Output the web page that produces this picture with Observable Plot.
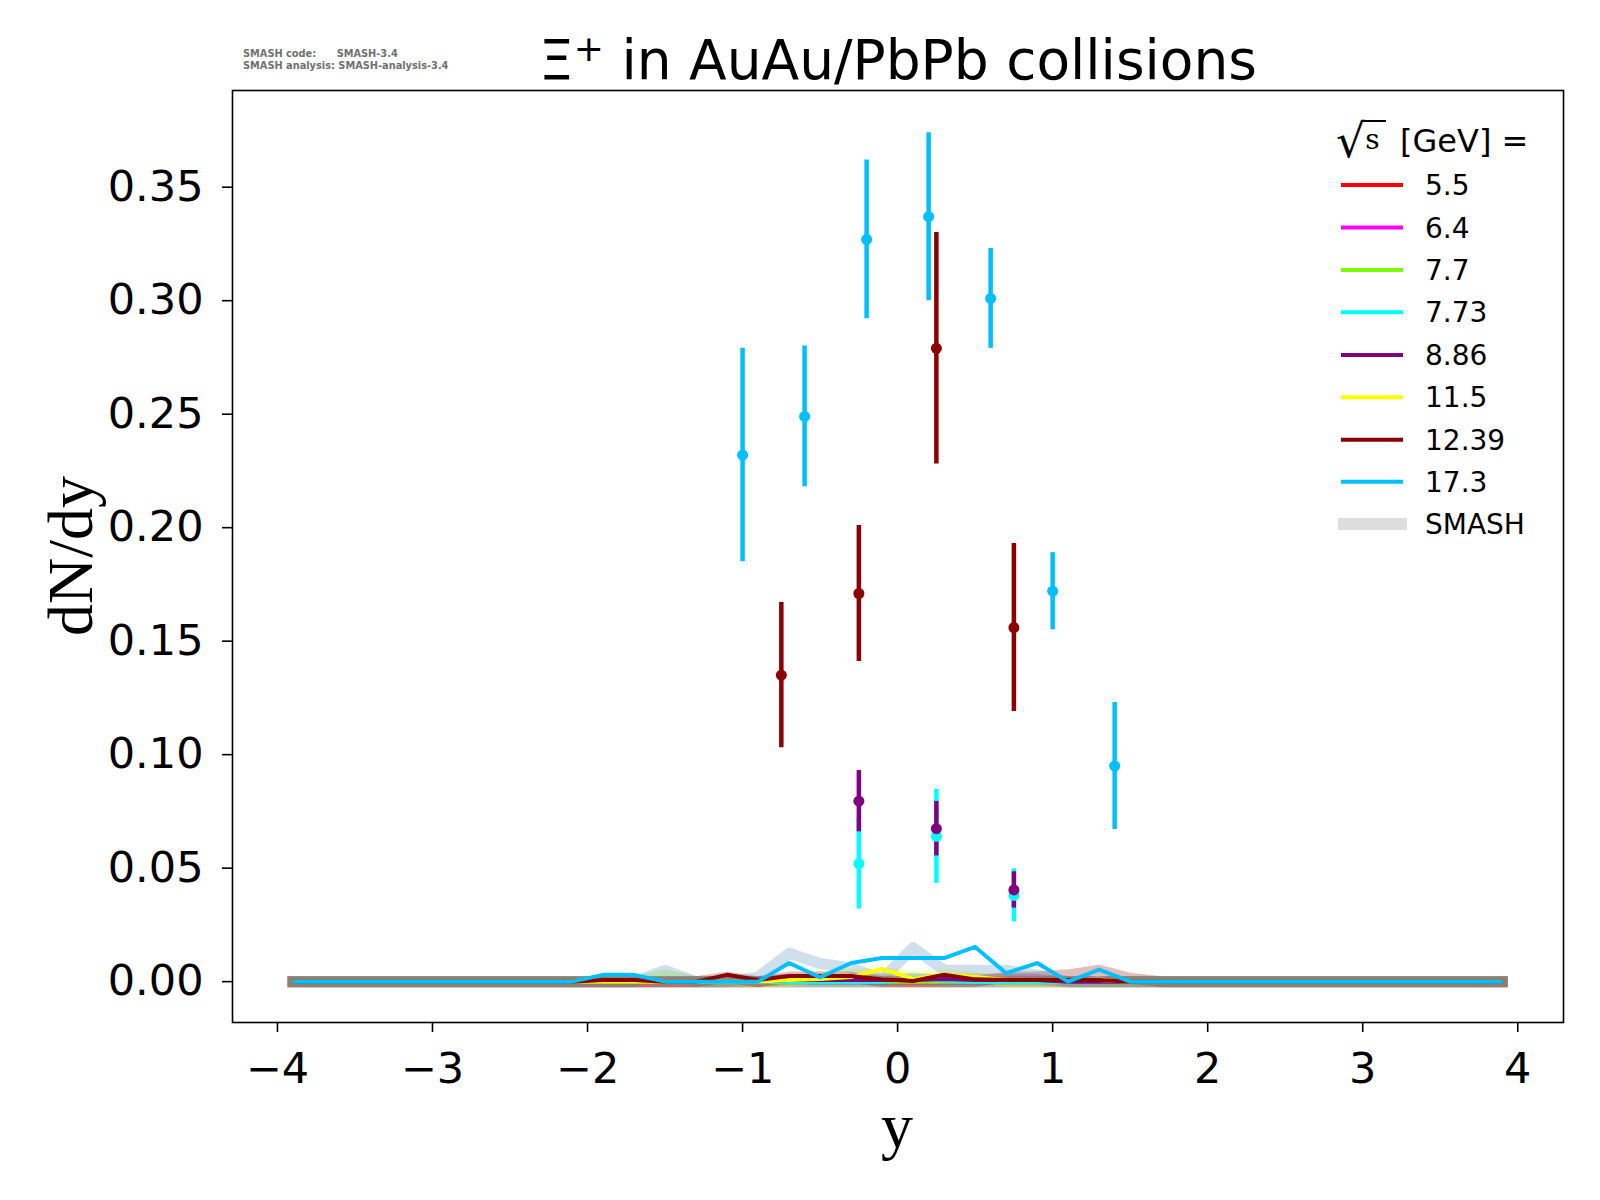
<!DOCTYPE html>
<html>
<head>
<meta charset="utf-8">
<script src="https://cdn.jsdelivr.net/npm/d3@7"></script>
<script src="https://cdn.jsdelivr.net/npm/@observablehq/plot@0.6"></script>
<style>
  html, body { margin: 0; padding: 0; background: #fff; }
  #chart svg { display: block; }
</style>
</head>
<body>
<div id="chart"></div>
<script>
// ---- categories ----
const energies = ["5.5", "6.4", "7.7", "7.73", "8.86", "11.5", "12.39", "17.3"];
const colors = ["#ff0000", "#ff00ff", "#7cfc00", "#00ffff", "#800080", "#ffff00", "#8b0000", "#00bfff"];
const bandColors = ["#ff0000", "#ff00ff", "#7cfc00", "#00ffff", "#800080", "#ffff00", "#8b0000", "#4682b4"];

// ---- ticks ----
const xTicks = [-4, -3, -2, -1, 0, 1, 2, 3, 4];
const yTicks = [0, 0.05, 0.10, 0.15, 0.20, 0.25, 0.30, 0.35];

// ---- SMASH rapidity grid ----
const yGrid = [-3.9,-3.7,-3.5,-3.3,-3.1,-2.9,-2.7,-2.5,-2.3,-2.1,-1.9,-1.7,-1.5,-1.3,-1.1,-0.9,-0.7,-0.5,-0.3,-0.1,
               0.1,0.3,0.5,0.7,0.9,1.1,1.3,1.5,1.7,1.9,2.1,2.3,2.5,2.7,2.9,3.1,3.3,3.5,3.7,3.9];

// ---- SMASH thin lines (dN/dy) ----
const smash55   = [0,0,0,0,0,0,0,0,0,0, 0,0,0,0,0,0,0,0,0,0, 0,0,0,0,0,0,0,0,0,0, 0,0,0,0,0,0,0,0,0,0];
const smash64   = [0,0,0,0,0,0,0,0,0,0, 0,0,0,0,0,0,0,0,0,0, 0,0,0,0,0,0,0,0,0,0, 0,0,0,0,0,0,0,0,0,0];
const smash77   = [0,0,0,0,0,0,0,0,0,0, 0,0,0,0,0,0,0,0,0,0, 0,0,0,0,0,0,0,0,0,0, 0,0,0,0,0,0,0,0,0,0];
const smash773  = [0,0,0,0,0,0,0,0,0,0, 0,0,0,0,0,0,0,0,0,0, 0.0015,0.0005,0,0,0,0,0,0,0,0, 0,0,0,0,0,0,0,0,0,0];
const smash886  = [0,0,0,0,0,0,0,0,0,0, 0,0,0,0,0,0,0.0007,0.0007,0.0007,0.0007, 0.0007,0.0012,0.0007,0.0007,0.0007,0,0,0,0,0, 0,0,0,0,0,0,0,0,0,0];
const smash115  = [0,0,0,0,0,0,0,0,0,0, 0,0,0,0,0,0,0.0007,0.0012,0.002,0.0056, 0.0012,0.003,0.002,0.0007,0.0007,0.0007,0.0007,0,0,0, 0,0,0,0,0,0,0,0,0,0];
const smash1239 = [0,0,0,0,0,0,0,0,0,0, 0.0007,0.0007,0,0,0.003,0.0007,0.0025,0.0025,0.0025,0.001, 0.0003,0.003,0.001,0.0007,0.0007,0.0007,0.0007,0,0,0, 0,0,0,0,0,0,0,0,0,0];
const smash173  = [0,0,0,0,0,0,0,0,0,0, 0.003,0.003,0,0,0,0,0.0082,0.0019,0.0082,0.0104, 0.0104,0.0104,0.0153,0.0037,0.0082,0,0.0053,0,0,0, 0,0,0,0,0,0,0,0,0,0];

// ---- SMASH translucent bands ----
const band55   = [0,0,0,0,0,0,0,0,0,0, 0,0,0,0,0,0,0,0,0,0, 0,0,0,0,0,0,0,0,0,0, 0,0,0,0,0,0,0,0,0,0];
const band64   = [0,0,0,0,0,0,0,0,0,0, 0,0,0,0,0,0,0,0,0,0, 0,0,0,0,0,0,0,0,0,0, 0,0,0,0,0,0,0,0,0,0];
const band77   = [0,0,0,0,0,0,0,0,0,0, 0,0,0.003,0,0,0,0,0,0,0, 0,0,0,0,0,0,0,0,0,0, 0,0,0,0,0,0,0,0,0,0];
const band773  = [0,0,0,0,0,0,0,0,0,0, 0,0,0,0,0,0,0,0,0,0, 0.002,0,0,0,0,0,0,0,0,0, 0,0,0,0,0,0,0,0,0,0];
const band886  = [0,0,0,0,0,0,0,0,0,0, 0,0,0,0,0,0,0.001,0.001,0.001,0.001, 0.001,0.001,0.001,0.001,0.001,0,0,0,0,0, 0,0,0,0,0,0,0,0,0,0];
const band115  = [0,0,0,0,0,0,0,0,0,0, 0,0,0,0,0,0,0,0.002,0.003,0.004, 0.002,0.003,0.002,0,0,0,0,0,0,0, 0,0,0,0,0,0,0,0,0,0];
const band1239 = [0,0,0,0,0,0,0,0,0,0, 0,0,0,0,0.002,0,0.002,0.002,0.002,0, 0,0,0,0.002,0.002,0.003,0.005,0.0015,0,0, 0,0,0,0,0,0,0,0,0,0];
const band173  = [0,0,0,0,0,0,0,0,0,0, 0,0,0.005,0,0,0.002,0.0125,0.008,0.006,0.001, 0.015,0.005,0.005,0.005,0.003,0,0,0,0,0, 0,0,0,0,0,0,0,0,0,0];

// ---- experimental data ----
const exp773_y  = [-0.25, 0.25, 0.75];
const exp773_v  = [0.052, 0.064, 0.038];
const exp773_e  = [0.020, 0.0207, 0.0117];
const exp886_y  = [-0.25, 0.25, 0.75];
const exp886_v  = [0.0795, 0.0674, 0.0404];
const exp886_e  = [0.0135, 0.012, 0.008];
const exp1239_y = [-0.75, -0.25, 0.25, 0.75];
const exp1239_v = [0.135, 0.171, 0.279, 0.156];
const exp1239_e = [0.032, 0.030, 0.051, 0.037];
const exp173_y  = [-1.0, -0.6, -0.2, 0.2, 0.6, 1.0, 1.4];
const exp173_v  = [0.232, 0.249, 0.327, 0.337, 0.301, 0.172, 0.095];
const exp173_e  = [0.047, 0.031, 0.035, 0.037, 0.022, 0.017, 0.028];

// ---- build tables ----
const lineSets = [smash55, smash64, smash77, smash773, smash886, smash115, smash1239, smash173];
const bandSets = [band55, band64, band77, band773, band886, band115, band1239, band173];
const lineRows = [], bandRows = [];
lineSets.forEach((arr, k) => arr.forEach((v, i) => lineRows.push({y: yGrid[i], v, s: energies[k], k})));
bandSets.forEach((arr, k) => arr.forEach((v, i) => bandRows.push({y: yGrid[i], v, s: energies[k], k})));

const expSets = [
  {k: 3, y: exp773_y, v: exp773_v, e: exp773_e},
  {k: 4, y: exp886_y, v: exp886_v, e: exp886_e},
  {k: 6, y: exp1239_y, v: exp1239_v, e: exp1239_e},
  {k: 7, y: exp173_y, v: exp173_v, e: exp173_e}
];
const expRows = [];
expSets.forEach(set => set.y.forEach((y, i) => expRows.push({
  y, v: set.v[i], lo: set.v[i] - set.e[i], hi: set.v[i] + set.e[i], k: set.k, c: colors[set.k]
})));

const fmtX = d => d < 0 ? "\u2212" + Math.abs(d) : String(d);

const chart = Plot.plot({
  width: 1600,
  height: 1200,
  marginLeft: 232,
  marginRight: 37,
  marginTop: 90,
  marginBottom: 178,
  style: {fontFamily: "DejaVu Sans", fontSize: "43px", background: "#fff", color: "#000"},
  x: {domain: [-4.29, 4.295]},
  y: {domain: [-0.018, 0.3926]},
  marks: [
    Plot.line(bandRows, {x: "y", y: "v", z: "s", stroke: d => bandColors[d.k],
      strokeWidth: 11, strokeOpacity: 0.26, strokeLinecap: "square", strokeLinejoin: "round"}),
    Plot.line(lineRows, {x: "y", y: "v", z: "s", stroke: d => colors[d.k],
      strokeWidth: 4, strokeLinecap: "butt", strokeLinejoin: "round"}),
    Plot.ruleX(expRows, {x: "y", y1: "lo", y2: "hi", stroke: "c", strokeWidth: 4.5}),
    Plot.dot(expRows, {x: "y", y: "v", fill: "c", r: 5.5, stroke: null}),
    Plot.frame({stroke: "#000", strokeWidth: 1.6}),
    Plot.axisX({ticks: xTicks, tickFormat: fmtX, tickSize: 10, tickPadding: 20, strokeWidth: 1.6, label: null}),
    Plot.axisY({ticks: yTicks, tickFormat: d3.format(".2f"), tickSize: 10, tickPadding: 19, strokeWidth: 1.6, label: null})
  ]
});

document.getElementById("chart").appendChild(chart);

// ---- extra text: title, labels, legend ----
const svg = d3.select(chart);

const title = svg.append("text")
  .attr("x", 898).attr("y", 79)
  .attr("text-anchor", "middle")
  .attr("font-family", "DejaVu Sans").attr("font-size", 55).attr("fill", "#000");
title.append("tspan").text("\u039E");
title.append("tspan").attr("font-size", 36).attr("dy", -18).text("+");
title.append("tspan").attr("dy", 18).text(" in AuAu/PbPb collisions");

const meta = svg.append("g").attr("font-family", "DejaVu Sans").attr("font-size", 9.8)
  .attr("fill", "#707070").attr("font-weight", "bold").attr("text-anchor", "start");
meta.append("text").attr("x", 243).attr("y", 57).attr("xml:space", "preserve").text("SMASH code:      SMASH-3.4");
meta.append("text").attr("x", 243).attr("y", 68.5).text("SMASH analysis: SMASH-analysis-3.4");

svg.append("text")
  .attr("x", 897).attr("y", 1147)
  .attr("text-anchor", "middle")
  .attr("font-family", "Liberation Serif").attr("font-size", 64).attr("fill", "#000")
  .text("y");

svg.append("text")
  .attr("transform", "translate(92,556) rotate(-90)")
  .attr("text-anchor", "middle")
  .attr("font-family", "Liberation Serif").attr("font-size", 64).attr("fill", "#000")
  .text("dN/dy");

// legend
const leg = svg.append("g").attr("text-anchor", "start");
const legTitle = leg.append("text").attr("x", 1336).attr("y", 152)
  .attr("font-family", "DejaVu Sans").attr("font-size", 32).attr("fill", "#000")
  .attr("xml:space", "preserve");
legTitle.append("tspan").attr("font-family", "DejaVu Serif").attr("font-size", 46).attr("dy", 5).text("\u221A");
legTitle.append("tspan").attr("font-family", "DejaVu Serif").attr("font-size", 28).attr("dy", -8).text("s");
legTitle.append("tspan").attr("dy", 3).text("  [GeV] =");
leg.append("line").attr("x1", 1362).attr("x2", 1386).attr("y1", 121).attr("y2", 121)
  .attr("stroke", "#000").attr("stroke-width", 2);

const rowY = [185, 227.5, 270, 312.3, 355, 397.3, 439.7, 481.7];
energies.forEach((e, i) => {
  leg.append("line").attr("x1", 1341).attr("x2", 1403).attr("y1", rowY[i]).attr("y2", rowY[i])
    .attr("stroke", colors[i]).attr("stroke-width", 4);
  leg.append("text").attr("x", 1425).attr("y", rowY[i]).attr("dy", "0.36em")
    .attr("font-family", "DejaVu Sans").attr("font-size", 28).attr("fill", "#000").text(e);
});
leg.append("line").attr("x1", 1338).attr("x2", 1407).attr("y1", 524).attr("y2", 524)
  .attr("stroke", "#dddddd").attr("stroke-width", 12);
leg.append("text").attr("x", 1425).attr("y", 524).attr("dy", "0.36em")
  .attr("font-family", "DejaVu Sans").attr("font-size", 28).attr("fill", "#000").text("SMASH");
</script>
</body>
</html>
